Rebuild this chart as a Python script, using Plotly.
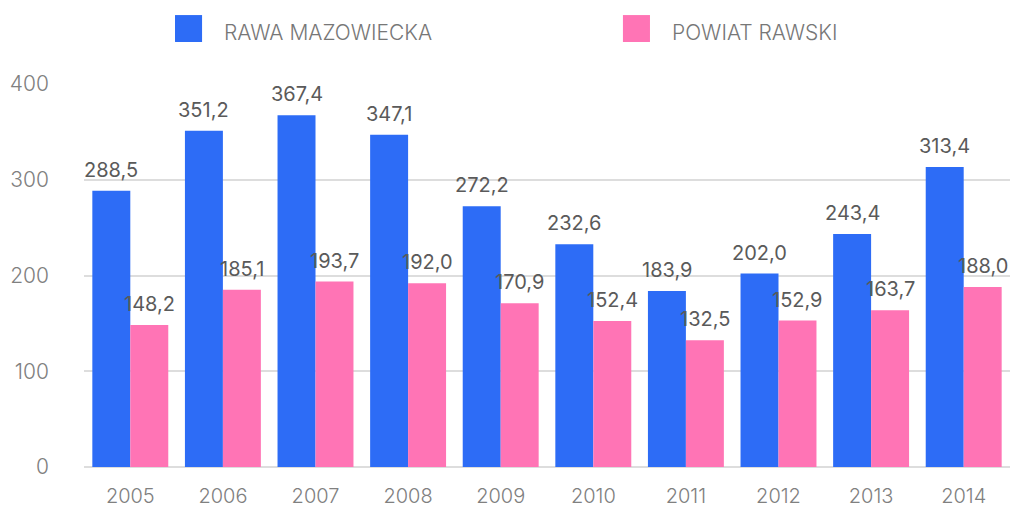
import plotly.graph_objects as go

years = ["2005", "2006", "2007", "2008", "2009", "2010", "2011", "2012", "2013", "2014"]
rawa = [288.5, 351.2, 367.4, 347.1, 272.2, 232.6, 183.9, 202.0, 243.4, 313.4]
powiat = [148.2, 185.1, 193.7, 192.0, 170.9, 152.4, 132.5, 152.9, 163.7, 188.0]
series_names = ["RAWA MAZOWIECKA", "POWIAT RAWSKI"]
colors = ["#2D6CF6", "#FF74B5"]

FONT = "Inter"
BARGAP = 0.18


def fmt(v):
    return f"{v:.1f}".replace(".", ",")


fig = go.Figure()
for name, vals, col in zip(series_names, [rawa, powiat], colors):
    fig.add_trace(go.Bar(
        x=years, y=vals, name=name, marker=dict(color=col, line=dict(width=0)),
        showlegend=False,
    ))

# value labels above each bar (offset left/right of the category centre)
plot_w = 1012 - 84 - 2
bar_px = plot_w / len(years) * (1 - BARGAP) / 2
for vals, sign in zip([rawa, powiat], [-1, 1]):
    for i, v in enumerate(vals):
        fig.add_annotation(x=i, y=v, text=fmt(v), showarrow=False,
                           xshift=sign * bar_px / 2, yanchor="bottom", yshift=7,
                           font=dict(family=FONT, size=20, color="#5a5a5a", weight=400))

# legend drawn as colour swatches with captions
legend_pos = [(0.0983, 0.149), (0.582, 0.633)]
for name, col, (sx, tx) in zip(series_names, colors, legend_pos):
    fig.add_shape(type="rect", xref="paper", yref="paper",
                  x0=sx, x1=sx + 0.0292, y0=1.1097, y1=1.180,
                  fillcolor=col, line=dict(width=0))
    fig.add_annotation(xref="paper", yref="paper", x=tx, y=1.1345,
                       text=name, showarrow=False, xanchor="left", yanchor="middle",
                       font=dict(family=FONT, size=21, color="#777777", weight=300))

fig.update_layout(
    width=1012, height=508,
    margin=dict(l=84, r=2, t=84, b=41, autoexpand=False),
    paper_bgcolor="white", plot_bgcolor="white",
    barmode="group", bargap=BARGAP, bargroupgap=0,
    font=dict(family=FONT),
    yaxis=dict(range=[0, 400], tickvals=[0, 100, 200, 300, 400],
               showgrid=True, gridcolor="#dddddd", gridwidth=2,
               zeroline=True, zerolinecolor="#dddddd", zerolinewidth=2,
               tickfont=dict(family=FONT, size=21, color="#808080", weight=300),
               ticklabelstandoff=34, showline=False, automargin=False),
    xaxis=dict(type="category", categoryorder="array", categoryarray=years,
               range=[-0.5, len(years) - 0.5],
               showgrid=False, showline=False, zeroline=False,
               tickfont=dict(family=FONT, size=20, color="#808080", weight=300),
               ticklabelstandoff=15, automargin=False),
)

fig.write_html("out.html")
